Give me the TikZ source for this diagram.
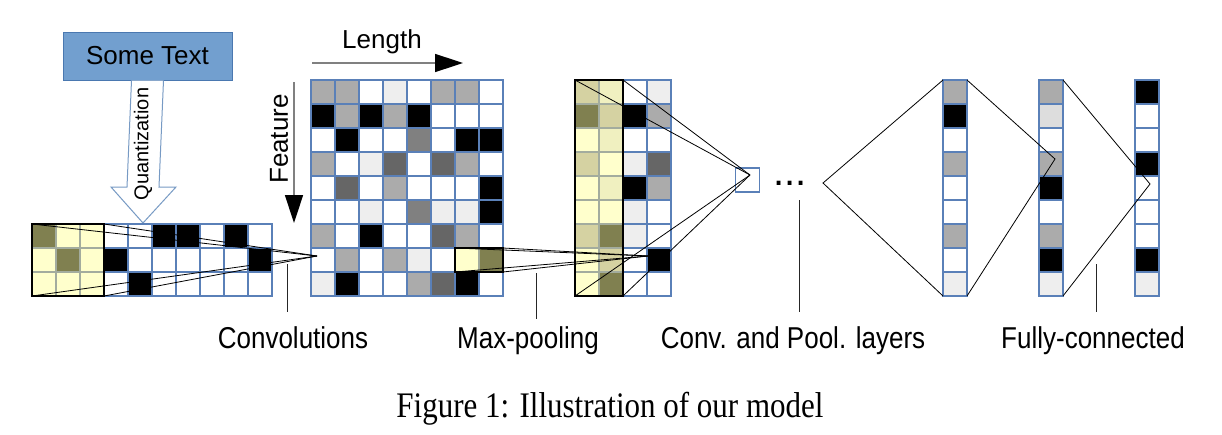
\documentclass[tikz,border=0pt]{standalone}
\usepackage{fontspec}
\usepackage{graphicx}
\setmainfont{Liberation Serif}
\setsansfont{Liberation Sans}
\usetikzlibrary{arrows.meta}
\definecolor{cW}{HTML}{FFFFFF}
\definecolor{cB}{HTML}{000000}
\definecolor{cA}{HTML}{ABABAB}
\definecolor{cL}{HTML}{EEEEEE}
\definecolor{cG}{HTML}{DDDDDD}
\definecolor{cD}{HTML}{666666}
\definecolor{cM}{HTML}{808080}
\definecolor{cY}{HTML}{FFFFCC}
\definecolor{cO}{HTML}{808050}
\definecolor{cT}{HTML}{D5D2A2}
\definecolor{cP}{HTML}{F0F0C0}
\definecolor{gridblue}{HTML}{5A80B8}
\definecolor{ygrid}{HTML}{A3AC9E}
\definecolor{boxblue}{HTML}{729FCF}
\definecolor{boxedge}{HTML}{4A78B0}
\newcommand{\tall}[1]{\scalebox{1}[1.16]{#1}}
\newcommand{\cellrows}[4]{%
  \foreach \row [count=\ri from 0] in {#4} {
    \foreach \cc [count=\ki from 0] in \row {
      \path[#3, fill=c\cc] (#1+24*\ki, #2+24*\ri) rectangle ++(24,24);
    }
  }
}
\tikzset{
  cell/.style={draw=gridblue, line width=1.2pt},
  ycell/.style={draw=ygrid, line width=1.2pt},
  kernel/.style={draw=black, line width=1.2pt, anchor=north west, inner sep=0pt, outer sep=0pt},
  layer/.style={anchor=north west, inner sep=0pt, outer sep=0pt, minimum width=24pt, minimum height=216pt},
  ray/.style={black, line width=0.8pt},
  callout/.style={black!85, line width=0.9pt},
  lbl/.style={font=\sffamily\fontsize{26}{30}\selectfont},
  dirarrow/.style={gray, line width=1.5pt, -{Triangle[length=28pt, width=18pt, black]}}
}
\begin{document}
\begin{tikzpicture}[x=1pt, y=-1pt]
  \useasboundingbox (0,0) rectangle (1222,434);

  \node[draw=boxedge, fill=boxblue, line width=1pt, minimum width=169pt, minimum height=48pt, lbl] (txt) at (147.5,56) {Some Text};
  \draw[draw=boxedge!75, fill=white, line width=1pt]
    ([xshift=-16pt]txt.south) -- (127,187) -- (111,187) -- (143,223) -- (176,187) -- (159,187) -- ([xshift=16pt]txt.south);
  \node[rotate=90, font=\sffamily\fontsize{20}{24}\selectfont] (quant) at (143,144) {Quantization};

  \cellrows{32}{224}{cell}{{W,W,W,W,W,B,B,W,B,W},{W,W,W,B,W,W,W,W,W,B},{W,W,W,W,B,W,W,W,W,W}}
  \cellrows{32}{224}{ycell}{{O,Y,Y},{Y,O,Y},{Y,Y,Y}}
  \node[kernel, minimum width=72pt, minimum height=72pt] (kin) at (32,224) {};

  \cellrows{311}{80}{cell}{{A,A,W,L,W,A,A,W},{B,A,B,A,B,W,W,W},{W,B,W,W,M,W,B,B},{A,W,L,D,W,D,A,W},{W,D,W,A,W,W,W,B},{W,W,L,W,M,L,L,B},{A,W,B,W,W,D,A,W},{W,A,W,A,L,W,W,W},{L,B,W,W,A,D,B,W}}
  \cellrows{455}{248}{ycell}{{Y,O}}
  \node[kernel, minimum width=48pt, minimum height=24pt] (kmain) at (455,248) {};

  \cellrows{575}{80}{cell}{{W,W,W,L},{W,W,B,A},{W,W,W,W},{W,W,L,D},{W,W,B,A},{W,W,L,W},{W,W,L,W},{W,W,W,B},{W,W,W,W}}
  \cellrows{575}{80}{ycell}{{T,P},{O,T},{Y,P},{T,Y},{Y,P},{Y,Y},{T,O},{Y,T},{Y,O}}
  \node[kernel, minimum width=48pt, minimum height=216pt] (kpool) at (575,80) {};

  \node[cell, minimum size=24pt, inner sep=0pt] (unit) at (747.5,180) {};
  \node[font=\sffamily\fontsize{40}{40}\selectfont, anchor=base] (dots) at (790,185) {...};

  \cellrows{943}{80}{cell}{{A},{B},{W},{A},{W},{W},{A},{W},{L}}
  \cellrows{1039}{80}{cell}{{A},{G},{W},{A},{B},{W},{A},{B},{L}}
  \cellrows{1135}{80}{cell}{{B},{W},{W},{B},{W},{W},{W},{B},{L}}
  \node[layer] (fcA) at (943,80) {};
  \node[layer] (fcB) at (1039,80) {};
  \node[layer] (fcC) at (1135,80) {};

  \coordinate (conv1) at (317,256);
  \coordinate (pool1) at (648,256);
  \coordinate (conv2) at (750,175);
  \coordinate (fc1) at (823,183);
  \coordinate (fc2) at (1055,159);
  \coordinate (fc3) at (1150,184);

  \foreach \k/\p in {kin/conv1, kmain/pool1, kpool/conv2} {
    \foreach \a in {north west, north east, south west, south east}
      \draw[ray] (\k.\a) -- (\p);
  }
  \draw[ray] (fcA.north west) -- (fc1) -- (fcA.south west);
  \draw[ray] (fcA.north east) -- (fc2) -- (fcA.south east);
  \draw[ray] (fcB.north east) -- (fc3) -- (fcB.south east);

  \coordinate (flen) at (312,63);
  \coordinate (tlen) at (463,63);
  \coordinate (ffeat) at (294,82);
  \coordinate (tfeat) at (294,223);
  \draw[dirarrow] (flen) -- (tlen);
  \draw[dirarrow] (ffeat) -- (tfeat);
  \node[lbl] (length) at (382,42) {Length};
  \node[lbl, rotate=90] (feature) at (279,139) {Feature};

  \node[lbl, anchor=base] (lconv) at (293,348) {\tall{Convolutions}};
  \node[lbl, anchor=base] (lpool) at (528,348) {\tall{Max-pooling}};
  \node[lbl, anchor=base] (llayers) at (793,348) {\tall{Conv. and Pool. layers}};
  \node[lbl, anchor=base] (lfc) at (1093,348) {\tall{Fully-connected}};
  \coordinate (tconv) at (287,264);
  \coordinate (tpool) at (536,273);
  \coordinate (tlayers) at (799,200);
  \coordinate (tfc) at (1096,264);
  \coordinate (lbase) at (0,312);
  \draw[callout] (tconv) -- (tconv |- lbase);
  \draw[callout] (tpool) -- ++(0,46);
  \draw[callout] (tlayers) -- (tlayers |- lbase);
  \draw[callout] (tfc) -- (tfc |- lbase);

  \node[font=\rmfamily\fontsize{31}{36}\selectfont, anchor=base] (caption) at (610,417) {\tall{Figure 1: Illustration of our model}};
\end{tikzpicture}
\end{document}
